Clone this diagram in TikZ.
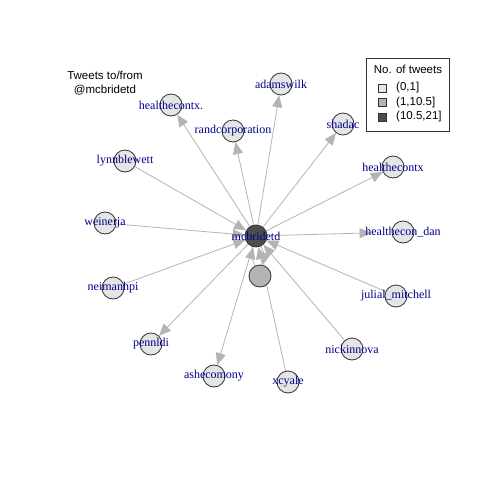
\documentclass[tikz,border=0pt]{standalone}
\usepackage{fontspec}
\setmainfont{Liberation Serif}
\setsansfont{Liberation Sans}
\usetikzlibrary{arrows.meta,backgrounds}
\definecolor{edgec}{RGB}{180,180,180}
\definecolor{lightv}{RGB}{229,229,229}
\definecolor{midv}{RGB}{179,179,179}
\definecolor{darkv}{RGB}{77,77,77}
\definecolor{vborder}{RGB}{51,51,51}
\definecolor{lblc}{RGB}{0,0,139}
\tikzset{
  vtx/.style={circle,draw=vborder,line width=0.8pt,minimum size=22pt,inner sep=0pt,fill=lightv},
  lbl/.style={text=lblc,font=\fontsize{12}{12}\selectfont,inner sep=0pt},
  edg/.style={draw=edgec,line width=0.8pt,-{Triangle[length=12pt,width=10pt]}},
  sans/.style={font=\sffamily\fontsize{11.5}{13}\selectfont,inner sep=0pt},
  keybox/.style={draw=vborder,line width=0.7pt,minimum size=8pt,inner sep=0pt}
}
\begin{document}
\begin{tikzpicture}[x=1pt,y=-1pt]
\path[use as bounding box] (0,0) rectangle (480,480);
% vertices
\node[vtx,fill=darkv] (mc) at (256,236) {};
\node[vtx,fill=midv] (gr) at (260,276) {};
\node[vtx] (adw) at (281,84) {};
\node[vtx] (hc1) at (171,105) {};
\node[vtx] (rand) at (233,131) {};
\node[vtx] (shad) at (343,124) {};
\node[vtx] (hc2) at (393,167) {};
\node[vtx] (lynn) at (125,161) {};
\node[vtx] (wein) at (105,223) {};
\node[vtx] (hcd) at (403,232) {};
\node[vtx] (neim) at (113,288) {};
\node[vtx] (jul) at (396,296) {};
\node[vtx] (penn) at (151,344) {};
\node[vtx] (nick) at (352,349) {};
\node[vtx] (ashe) at (214,376) {};
\node[vtx] (xcy) at (288,382) {};
% edges
\begin{scope}[on background layer]
\fill[white] (0,0) rectangle (480,480);
\draw[edg] (mc) -- (hc1);
\draw[edg] (mc) -- (rand);
\draw[edg] (mc) -- (adw);
\draw[edg] (mc) -- (shad);
\draw[edg] (mc) -- (hc2);
\draw[edg,shorten >=20pt] (mc) -- (hcd);
\draw[edg] (mc) -- (penn);
\draw[edg] (mc) -- (ashe);
\draw[edg] (lynn) -- (mc);
\draw[edg] (wein) -- (mc);
\draw[edg] (neim) -- (mc);
\draw[edg] (jul) -- (mc);
\draw[edg] (nick) -- (mc);
\draw[edg] (xcy) -- (mc);
\draw[edg] (gr) to[bend left=20] (mc);
\draw[edg] (mc) to[bend left=20] (gr);
\end{scope}
% labels
\node[lbl] (mc-l) at (mc) {mcbridetd};
\node[lbl] (adw-l) at (adw) {adamswilk};
\node[lbl] (hc1-l) at (hc1) {healthecontx.};
\node[lbl] (rand-l) at (rand) {randcorporation};
\node[lbl] (shad-l) at (shad) {shadac};
\node[lbl] (hc2-l) at (hc2) {healthecontx};
\node[lbl] (lynn-l) at (lynn) {lynnblewett};
\node[lbl] (wein-l) at (wein) {weinerja};
\node[lbl] (hcd-l) at (hcd) {healthecon\_dan};
\node[lbl] (neim-l) at (neim) {neimanhpi};
\node[lbl] (jul-l) at (jul) {julial\_mitchell};
\node[lbl] (penn-l) at (penn) {pennldi};
\node[lbl] (nick-l) at (nick) {nickinnova};
\node[lbl] (ashe-l) at (ashe) {ashecomony};
\node[lbl] (xcy-l) at (xcy) {xcyale};
% title
\node[sans,align=center] (title) at (105,83) {Tweets to/from\\[1pt]@mcbridetd};
% legend
\node[draw=vborder,line width=0.7pt,minimum width=83pt,minimum height=73pt,inner sep=0pt] (leg) at (407.5,94.5) {};
\node[sans] (legt) at (408,69) {No. of tweets};
\node[keybox,fill=lightv] (k1) at (382,88) {};
\node[keybox,fill=midv] (k2) at (382,102.5) {};
\node[keybox,fill=darkv] (k3) at (382,117) {};
\node[sans,anchor=west] (k1t) at (396,88) {(0,1]};
\node[sans,anchor=west] (k2t) at (396,102.5) {(1,10.5]};
\node[sans,anchor=west] (k3t) at (396,117) {(10.5,21]};
\end{tikzpicture}
\end{document}
